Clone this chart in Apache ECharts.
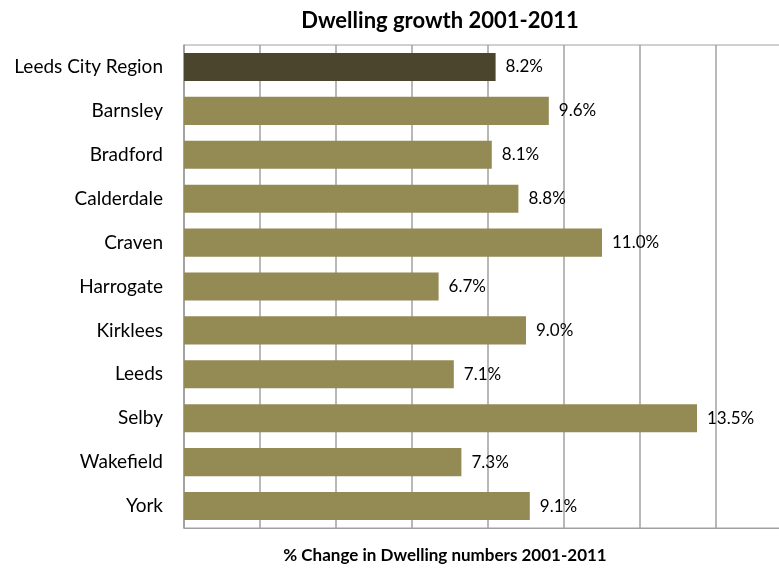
<!DOCTYPE html>
<html>
<head>
<meta charset="utf-8">
<script src="https://cdn.jsdelivr.net/npm/echarts@6/dist/echarts.min.js"></script>
<style>
  html, body { margin: 0; padding: 0; background: #fff; overflow: hidden; }
  /* the plot runs a little past the right edge of the window */
  #chart { width: 795px; height: 570px; }
</style>
</head>
<body>
<div id="chart"></div>
<script>
// Dwelling growth by district, 2001-2011 (% change)
const areas = ['Leeds City Region', 'Barnsley', 'Bradford', 'Calderdale', 'Craven',
  'Harrogate', 'Kirklees', 'Leeds', 'Selby', 'Wakefield', 'York'];
const growth = [8.2, 9.6, 8.1, 8.8, 11.0, 6.7, 9.0, 7.1, 13.5, 7.3, 9.1];
const regionColor = '#4A452C';
const districtColor = '#948A54';
const fontFamily = 'Lato, "Open Sans", sans-serif';

const chart = echarts.init(document.getElementById('chart'));
chart.setOption({
  animation: false,
  title: [{
    text: 'Dwelling growth 2001-2011',
    left: 440,
    textAlign: 'center',
    top: 10,
    padding: 0,
    textStyle: { fontFamily, fontSize: 22, fontWeight: 'bold', color: '#000' }
  }, {
    text: '% Change in Dwelling numbers 2001-2011',
    left: 445,
    textAlign: 'center',
    top: 547,
    padding: 0,
    textStyle: { fontFamily, fontSize: 17, fontWeight: 'bold', color: '#000' }
  }],
  grid: {
    left: 184, right: 3, top: 45, bottom: 42,
    show: true, borderColor: '#a0a0a0', borderWidth: 1
  },
  xAxis: {
    type: 'value',
    min: 0, max: 16, interval: 2,
    axisLabel: { show: false },
    axisTick: { show: false },
    axisLine: { show: true, lineStyle: { color: '#a0a0a0', width: 1 } },
    splitLine: { show: true, lineStyle: { color: '#a0a0a0', width: 1.5 } }
  },
  yAxis: {
    type: 'category',
    data: areas,
    inverse: true,
    axisTick: { show: false },
    axisLine: { show: true, lineStyle: { color: '#a0a0a0', width: 1.5 } },
    axisLabel: { fontFamily, fontSize: 19, color: '#000', margin: 21 }
  },
  series: [{
    type: 'bar',
    data: growth.map((v, i) => ({
      value: v,
      itemStyle: { color: i === 0 ? regionColor : districtColor }
    })),
    barCategoryGap: '36%',
    label: {
      show: true,
      position: 'right',
      distance: 10,
      formatter: p => p.value.toFixed(1) + '%',
      fontFamily, fontSize: 17, color: '#000'
    }
  }]
});
</script>
</body>
</html>
